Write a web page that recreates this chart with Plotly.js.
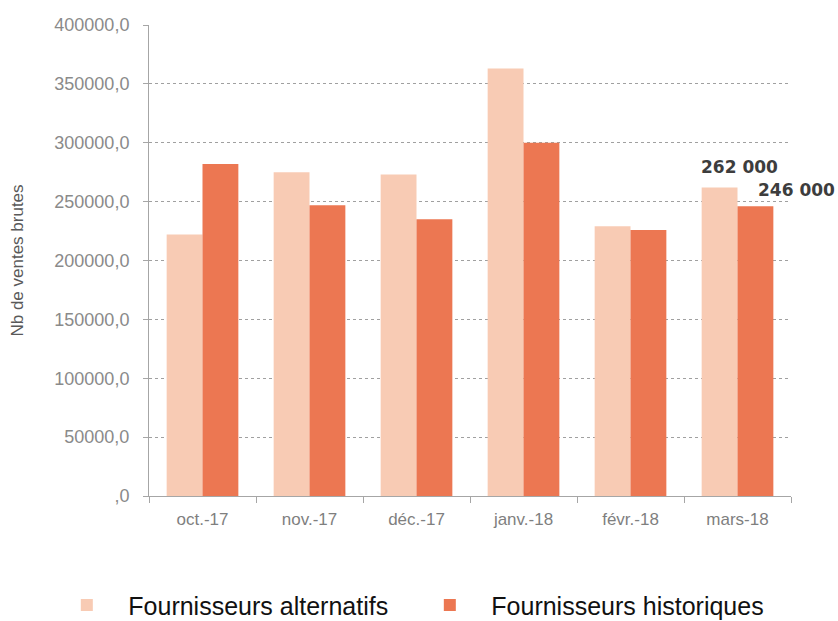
<!DOCTYPE html>
<html>
<head>
<meta charset="utf-8">
<script src="https://cdn.plot.ly/plotly-3.0.1.min.js"></script>
<style>html,body{margin:0;padding:0;background:#fff;}#chart{width:838px;height:621px;}</style>
</head>
<body>
<div id="chart"></div>
<script>
const months = ["oct.-17", "nov.-17", "déc.-17", "janv.-18", "févr.-18", "mars-18"];
const alternatifs = [222000, 275000, 273000, 363000, 229000, 262000];
const historiques = [282000, 247000, 235000, 300000, 226000, 246000];
const yTickVals = [0, 50000, 100000, 150000, 200000, 250000, 300000, 350000, 400000];
const yTickText = [",0", "50000,0", "100000,0", "150000,0", "200000,0", "250000,0", "300000,0", "350000,0", "400000,0"];
const labelAlt = "262 000";
const labelHist = "246 000";

const traces = [
  {type: "bar", name: "Fournisseurs alternatifs", x: months, y: alternatifs,
   marker: {color: "#F8CBB4"}, hoverinfo: "none"},
  {type: "bar", name: "Fournisseurs historiques", x: months, y: historiques,
   marker: {color: "#EC7752"}, hoverinfo: "none"}
];

const last = months.length - 1;
const annFont = {family: "DejaVu Sans, sans-serif", size: 17, color: "#3d3d3d", weight: "bold"};
const layout = {
  width: 838, height: 621,
  margin: {l: 149, r: 47, t: 25, b: 125, autoexpand: false},
  paper_bgcolor: "#fff", plot_bgcolor: "#fff",
  barmode: "group", bargap: 0.33, bargroupgap: 0,
  font: {family: "Liberation Sans, Arial, sans-serif", color: "#7f7f7f"},
  showlegend: true,
  legend: {orientation: "h", x: -0.1615, xanchor: "left", y: -0.232, yanchor: "middle",
    font: {family: "Liberation Sans, Arial, sans-serif", size: 25, color: "#111"},
    itemwidth: 73, entrywidth: 275, entrywidthmode: "pixels"},
  xaxis: {
    type: "category", range: [-0.5, months.length - 0.5], autorange: false,
    showline: true, linecolor: "#a6a6a6", linewidth: 1,
    ticks: "outside", tickson: "boundaries", ticklen: 6, tickcolor: "#a6a6a6",
    tickfont: {size: 17, color: "#7f7f7f"}, ticklabelstandoff: 8,
    showgrid: false, zeroline: false
  },
  yaxis: {
    range: [0, 400000], autorange: false, tickvals: yTickVals, ticktext: yTickText,
    showline: true, linecolor: "#a6a6a6", linewidth: 1,
    ticks: "outside", ticklen: 5, tickcolor: "#a6a6a6",
    tickfont: {size: 18, color: "#8a8a8a"}, ticklabelstandoff: 10,
    showgrid: true, gridcolor: "#a0a0a0", griddash: "3px,3px", gridwidth: 1,
    zeroline: false,
    title: {text: "Nb de ventes brutes", font: {size: 17, color: "#595959"}, standoff: 26}
  },
  annotations: [
    {x: months[last], y: alternatifs[last], xref: "x", yref: "y", text: labelAlt,
     showarrow: false, xshift: 2, yanchor: "bottom", yshift: 9, font: annFont},
    {x: months[last], y: historiques[last], xref: "x", yref: "y", text: labelHist,
     showarrow: false, xshift: 59, yanchor: "bottom", yshift: 4, font: annFont}
  ]
};

Plotly.newPlot("chart", traces, layout, {displayModeBar: false, staticPlot: true});
</script>
</body>
</html>
